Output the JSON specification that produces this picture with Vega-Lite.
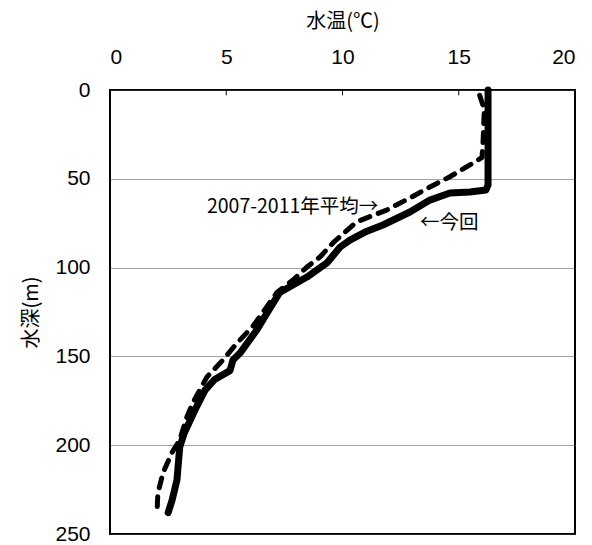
{
  "$schema": "https://vega.github.io/schema/vega-lite/v6.json",
  "width": 465,
  "height": 444,
  "autosize": "none",
  "padding": {"left": 110, "top": 90, "right": 17, "bottom": 11},
  "background": "white",
  "config": {
    "view": {"stroke": "black", "strokeWidth": 2},
    "font": "Noto Sans CJK JP"
  },
  "datasets": {
    "profiles": [
      {"series": "今回", "temp": 16.26, "depth": 0},
      {"series": "今回", "temp": 16.26, "depth": 53.5},
      {"series": "今回", "temp": 16.17, "depth": 56.3},
      {"series": "今回", "temp": 15.48, "depth": 57.4},
      {"series": "今回", "temp": 14.62, "depth": 58},
      {"series": "今回", "temp": 13.76, "depth": 62},
      {"series": "今回", "temp": 12.9, "depth": 68.7},
      {"series": "今回", "temp": 11.74, "depth": 76},
      {"series": "今回", "temp": 10.97, "depth": 80},
      {"series": "今回", "temp": 10.32, "depth": 84.5},
      {"series": "今回", "temp": 9.9, "depth": 88.4},
      {"series": "今回", "temp": 9.33, "depth": 97.4},
      {"series": "今回", "temp": 8.47, "depth": 105.3},
      {"series": "今回", "temp": 7.3, "depth": 114},
      {"series": "今回", "temp": 6.75, "depth": 125.6},
      {"series": "今回", "temp": 6.32, "depth": 135},
      {"series": "今回", "temp": 5.6, "depth": 148},
      {"series": "今回", "temp": 5.29, "depth": 152},
      {"series": "今回", "temp": 5.16, "depth": 158},
      {"series": "今回", "temp": 4.5, "depth": 163},
      {"series": "今回", "temp": 4.09, "depth": 169},
      {"series": "今回", "temp": 3.66, "depth": 180},
      {"series": "今回", "temp": 3.2, "depth": 193},
      {"series": "今回", "temp": 3.0, "depth": 201},
      {"series": "今回", "temp": 2.88, "depth": 219.6},
      {"series": "今回", "temp": 2.67, "depth": 231},
      {"series": "今回", "temp": 2.5, "depth": 238},
      {"series": "2007-2011年平均", "temp": 15.9, "depth": 3},
      {"series": "2007-2011年平均", "temp": 16.1, "depth": 11},
      {"series": "2007-2011年平均", "temp": 16.05, "depth": 28},
      {"series": "2007-2011年平均", "temp": 16.0, "depth": 38},
      {"series": "2007-2011年平均", "temp": 15.5, "depth": 42},
      {"series": "2007-2011年平均", "temp": 14.6, "depth": 49},
      {"series": "2007-2011年平均", "temp": 13.76, "depth": 54.6},
      {"series": "2007-2011年平均", "temp": 12.9, "depth": 60.8},
      {"series": "2007-2011年平均", "temp": 11.9, "depth": 67.6},
      {"series": "2007-2011年平均", "temp": 10.6, "depth": 74.3},
      {"series": "2007-2011年平均", "temp": 9.6, "depth": 86},
      {"series": "2007-2011年平均", "temp": 9.03, "depth": 94},
      {"series": "2007-2011年平均", "temp": 8.47, "depth": 99.7},
      {"series": "2007-2011年平均", "temp": 7.87, "depth": 107},
      {"series": "2007-2011年平均", "temp": 7.18, "depth": 114},
      {"series": "2007-2011年平均", "temp": 6.15, "depth": 133},
      {"series": "2007-2011年平均", "temp": 5.46, "depth": 142.5},
      {"series": "2007-2011年平均", "temp": 4.86, "depth": 152},
      {"series": "2007-2011年平均", "temp": 4.17, "depth": 161.6},
      {"series": "2007-2011年平均", "temp": 3.57, "depth": 176},
      {"series": "2007-2011年平均", "temp": 3.31, "depth": 184},
      {"series": "2007-2011年平均", "temp": 3.0, "depth": 197},
      {"series": "2007-2011年平均", "temp": 2.67, "depth": 204},
      {"series": "2007-2011年平均", "temp": 2.28, "depth": 215.6},
      {"series": "2007-2011年平均", "temp": 2.06, "depth": 227},
      {"series": "2007-2011年平均", "temp": 2.02, "depth": 238.2}
    ],
    "labels": [
      {"label": "2007-2011年平均→", "temp": 4.17, "depth": 66},
      {"label": "←今回", "temp": 13.33, "depth": 75}
    ],
    "ticks": [
      {"temp": 5, "depth": 0, "depth2": 3},
      {"temp": 10, "depth": 0, "depth2": 3},
      {"temp": 15, "depth": 0, "depth2": 3}
    ]
  },
  "encoding": {
    "x": {
      "field": "temp", "type": "quantitative",
      "scale": {"domain": [0, 20], "nice": false, "zero": false},
      "axis": {
        "orient": "top", "title": "水温(℃)", "values": [0, 5, 10, 15, 20],
        "grid": false, "domain": false, "ticks": false,
        "labelFont": "Liberation Sans", "labelFontSize": 21, "labelColor": "black",
        "labelPadding": 23, "titleFontSize": 20, "titleFontWeight": "normal",
        "titleColor": "black", "titlePadding": 15
      }
    },
    "y": {
      "field": "depth", "type": "quantitative",
      "scale": {"domain": [0, 250], "reverse": true, "nice": false, "zero": false},
      "axis": {
        "orient": "left", "title": "水深(m)", "values": [0, 50, 100, 150, 200, 250],
        "grid": true, "gridColor": "#444444", "gridDash": [1, 1], "gridWidth": 1,
        "domain": false, "ticks": false,
        "labelFont": "Liberation Sans", "labelFontSize": 21, "labelColor": "black",
        "labelPadding": 20, "titleFontSize": 20, "titleFontWeight": "normal",
        "titleColor": "black", "titlePadding": 13
      }
    }
  },
  "layer": [
    {
      "data": {"name": "ticks"},
      "mark": {"type": "rule", "color": "black", "strokeWidth": 1},
      "encoding": {"y2": {"field": "depth2"}}
    },
    {
      "data": {"name": "profiles"},
      "transform": [{"filter": "datum.series === '2007-2011年平均'"}],
      "mark": {"type": "line", "color": "black", "strokeWidth": 5, "strokeDash": [10, 9], "strokeCap": "round", "strokeJoin": "round"},
      "encoding": {"order": {"field": "depth", "type": "quantitative"}}
    },
    {
      "data": {"name": "profiles"},
      "transform": [{"filter": "datum.series === '今回'"}],
      "mark": {"type": "line", "color": "black", "strokeWidth": 7, "strokeCap": "round", "strokeJoin": "round"},
      "encoding": {"order": {"field": "depth", "type": "quantitative"}}
    },
    {
      "data": {"name": "labels"},
      "mark": {"type": "text", "align": "left", "baseline": "middle", "fontSize": 19.5, "color": "black", "font": "Noto Sans CJK JP"},
      "encoding": {"text": {"field": "label", "type": "nominal"}}
    }
  ]
}
